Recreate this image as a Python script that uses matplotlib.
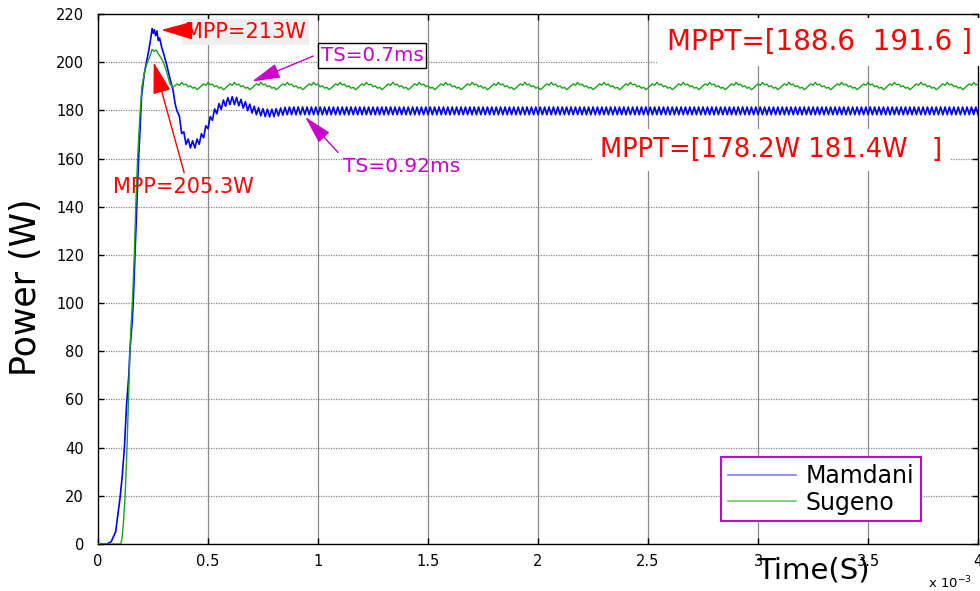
import numpy as np
import matplotlib
matplotlib.use("Agg")
import matplotlib.pyplot as plt
from matplotlib.lines import Line2D

# ---- data (time in ms, power in W) ----
mamdani_rise_t = [0.00, 0.04, 0.06, 0.08, 0.10, 0.11, 0.12, 0.13, 0.14, 0.145, 0.155,
                  0.16, 0.168, 0.176, 0.183, 0.19, 0.198, 0.21, 0.22, 0.229, 0.24,
                  0.246, 0.251, 0.256, 0.262, 0.268, 0.274, 0.28, 0.29, 0.30, 0.312,
                  0.325, 0.342, 0.35, 0.358]
mamdani_rise_p = [0, 0, 1, 5, 19, 28, 40, 58, 70, 80, 92,
                  100, 120, 141, 157, 170, 186, 195, 200, 204, 210,
                  214, 212, 213.5, 211, 213, 209, 210, 206, 203, 199,
                  194, 188, 183, 180]
# settling part, one sample every 0.01 ms from 0.37 ms to 0.90 ms
mamdani_settle_p = [177.6, 170.4, 171.1, 165.9, 168.1, 164.4, 167.4, 164.4, 168.1, 165.9,
                    170.3, 168.6, 173.6, 172.4, 177.4, 175.9, 180.6, 178.6, 182.8, 180.4,
                    184.3, 181.7, 185.3, 182.4, 185.7, 182.4, 185.4, 181.9, 184.6, 180.9,
                    183.6, 179.9, 182.6, 178.9, 181.7, 178.2, 181.1, 177.7, 180.7, 177.4,
                    180.5, 177.3, 180.5, 177.4, 180.7, 177.7, 181.0, 178.0, 181.3, 178.2,
                    181.4, 178.2, 181.4, 178.2]
# steady-state ripple of the Mamdani controller (peak, trough), 0.01 ms apart
mamdani_ripple = [181.4, 178.2]

sugeno_rise_t = [0.00, 0.10, 0.105, 0.11, 0.115, 0.123, 0.13, 0.138, 0.145, 0.15, 0.156,
                 0.165, 0.172, 0.18, 0.19, 0.20, 0.214, 0.225, 0.236, 0.246, 0.256,
                 0.265, 0.274, 0.285, 0.297, 0.312, 0.327, 0.34]
sugeno_rise_p = [0, 0, 0.5, 3, 8, 19.5, 35, 58, 80, 90, 100,
                 120, 141, 160, 177, 190, 197, 200, 202.5, 205.3, 204.5,
                 205, 203.5, 202, 200, 196, 191, 189.5]
# one period of the Sugeno steady-state ripple, 0.01 ms apart
sugeno_ripple = [190.2, 191.0, 190.4, 191.6, 190.6, 190.9, 189.8, 190.2,
                 189.2, 189.6, 188.6, 189.3]

x_ticks = [0, 0.5, 1, 1.5, 2, 2.5, 3, 3.5, 4]
x_tick_labels = ["0", "0.5", "1", "1.5", "2", "2.5", "3", "3.5", "4"]
y_ticks = list(range(0, 221, 20))

# ---- assemble the two waveforms ----
t_settle = np.round(np.arange(0.37, 0.9005, 0.01), 2)
t_m_tail = np.round(np.arange(0.91, 4.0005, 0.01), 2)
mamdani_t = np.concatenate([mamdani_rise_t, t_settle, t_m_tail])
mamdani_p = np.concatenate([mamdani_rise_p, mamdani_settle_p,
                            np.resize(mamdani_ripple, t_m_tail.size)])

t_s_tail = np.round(np.arange(0.35, 4.0005, 0.01), 2)
sugeno_t = np.concatenate([sugeno_rise_t, t_s_tail])
sugeno_p = np.concatenate([sugeno_rise_p, np.resize(sugeno_ripple, t_s_tail.size)])

BLUE = "#0000ff"
GREEN = "#19a319"
RED = "#ff0000"
MAG = "#cc00cc"

plt.rcParams["font.family"] = ["DejaVu Sans"]

fig = plt.figure(figsize=(9.8, 5.91), dpi=100)
ax = fig.add_axes([0.1, 0.0795, 0.898, 0.8968])

ax.plot(mamdani_t, mamdani_p, color=BLUE, lw=1.2, label="Mamdani", zorder=3)
ax.plot(sugeno_t, sugeno_p, color=GREEN, lw=1.0, label="Sugeno", zorder=3)

ax.set_xlim(0, 4)
ax.set_ylim(0, 220)
ax.set_xticks(x_ticks)
ax.set_xticklabels(x_tick_labels)
ax.set_yticks(y_ticks)

ax.tick_params(axis="both", direction="in", length=4, width=1, top=True, right=True,
               labelsize=10.5, colors="black")
ax.tick_params(axis="y", pad=10)
ax.tick_params(axis="x", pad=7)

ax.grid(False)
for xv in x_ticks[1:-1]:
    ax.axvline(xv, color="#8a8a8a", lw=0.9, zorder=1)
for yv in y_ticks[1:-1]:
    ax.axhline(yv, color="#8a8a8a", lw=0.9, ls=(0, (1, 1)), zorder=1)

for sp in ax.spines.values():
    sp.set_color("black")
    sp.set_linewidth(1.0)

# ---- annotations ----
big_head = "-|>,head_length=1.4,head_width=0.4"
small_head = "-|>,head_length=1.35,head_width=0.35"

ax.text(0.395, 212.5, "MPP=213W", color=RED, fontsize=15, ha="left", va="center",
        bbox=dict(boxstyle="square,pad=0.15", facecolor="#efefef", edgecolor="none"),
        zorder=5)
ax.annotate("", xy=(0.274, 213.4), xytext=(0.39, 213.2),
            arrowprops=dict(arrowstyle=big_head, mutation_scale=14, color=RED, lw=1.2),
            zorder=5)

ax.text(0.068, 148.2, "MPP=205.3W", color=RED, fontsize=15, ha="left", va="center",
        zorder=5)
ax.annotate("", xy=(0.25, 201), xytext=(0.395, 153),
            arrowprops=dict(arrowstyle=big_head, mutation_scale=14, color=RED, lw=1.0),
            zorder=5)

ax.text(1.245, 202.6, "TS=0.7ms", color=MAG, fontsize=14.3, ha="center", va="center",
        bbox=dict(boxstyle="square,pad=0.15", facecolor="white", edgecolor="black", lw=1),
        zorder=5)
ax.annotate("", xy=(0.688, 191.5), xytext=(0.99, 203),
            arrowprops=dict(arrowstyle=small_head, mutation_scale=13, color=MAG, lw=1.0),
            zorder=5)

ax.text(1.382, 156.5, "TS=0.92ms", color=MAG, fontsize=14.5, ha="center", va="center",
        zorder=5)
ax.annotate("", xy=(0.933, 178.1), xytext=(1.10, 161.7),
            arrowprops=dict(arrowstyle=small_head, mutation_scale=13, color=MAG, lw=1.0),
            zorder=5)

ax.text(2.586, 208.4, "MPPT=[188.6  191.6 ]", color=RED, fontsize=20, ha="left",
        va="center", bbox=dict(boxstyle="square,pad=0.35", facecolor="white",
                               edgecolor="none"), zorder=5)
ax.text(2.282, 163.6, "MPPT=[178.2W 181.4W   ]", color=RED, fontsize=18.5, ha="left",
        va="center", bbox=dict(boxstyle="square,pad=0.3", facecolor="white",
                               edgecolor="none"), zorder=5)

# ---- legend ----
handles = [Line2D([], [], color="#7f7fff", lw=1.2), Line2D([], [], color="#66c866", lw=1.2)]
leg = ax.legend(handles, ["Mamdani", "Sugeno"], loc="lower right",
                bbox_to_anchor=(0.935, 0.043), fontsize=17, frameon=True, fancybox=False,
                handlelength=2.9, handletextpad=0.4, borderpad=0.28, labelspacing=0.12,
                borderaxespad=0.0)
leg.get_frame().set_edgecolor(MAG)
leg.get_frame().set_linewidth(1.5)
leg.get_frame().set_facecolor("white")
leg.get_frame().set_alpha(1)
leg.set_zorder(6)

# ---- axis labels ----
fig.text(26 / 980, 1 - 287 / 591, "Power (W)", rotation=90, fontsize=25,
         ha="center", va="center")
fig.text(813 / 980, 1 - 571 / 591, "Time(S)", fontsize=21, ha="center", va="center")
fig.text(928 / 980, 1 - 583 / 591, r"x 10$^{-3}$", fontsize=9.5, ha="left", va="center")

fig.savefig("out.png", dpi=100, facecolor="white")
